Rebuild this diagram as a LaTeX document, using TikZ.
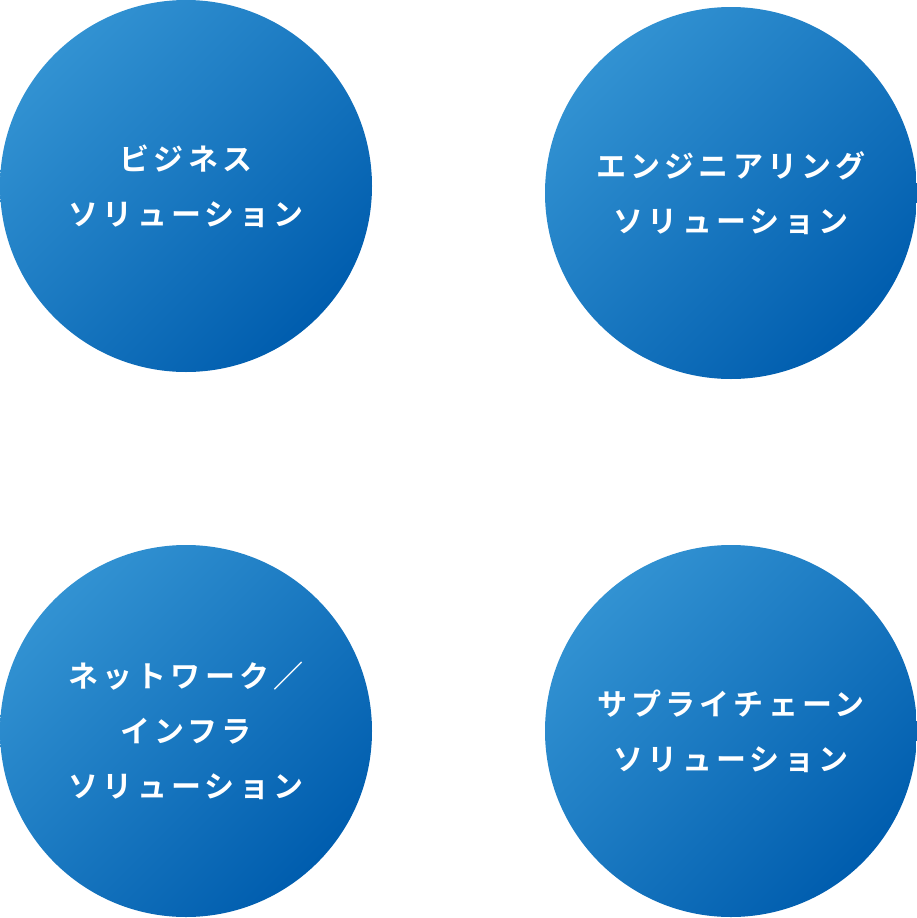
\documentclass[tikz,border=0pt]{standalone}
\usepackage{fontspec}
\newfontfamily\jpfont[LetterSpace=14]{Noto Sans CJK JP Bold}
\definecolor{ballLight}{HTML}{3292D2}
\definecolor{ballDark}{HTML}{005DAE}
\tikzset{
  ball/.style={circle,minimum size=372pt,inner sep=0pt,
    top color=ballLight,bottom color=ballDark,shading angle=45},
  balltext/.style={text=white,font=\jpfont\fontsize{30pt}{55pt}\selectfont,align=center}
}
\begin{document}
\begin{tikzpicture}[x=1pt,y=-1pt]
  \useasboundingbox (0,0) rectangle (917,918);

  \node[ball] (biz) at (186,186) {};
  \node[ball] (eng) at (731,193) {};
  \node[ball] (net) at (186,731) {};
  \node[ball] (sup) at (731,731) {};

  \node[balltext] (bizt) at (biz) {ビジネス\\ソリューション};
  \node[balltext] (engt) at (eng) {エンジニアリング\\ソリューション};
  \node[balltext] (nett) at (net) {ネットワーク／\\インフラ\\ソリューション};
  \node[balltext] (supt) at (sup) {サプライチェーン\\ソリューション};
\end{tikzpicture}
\end{document}
